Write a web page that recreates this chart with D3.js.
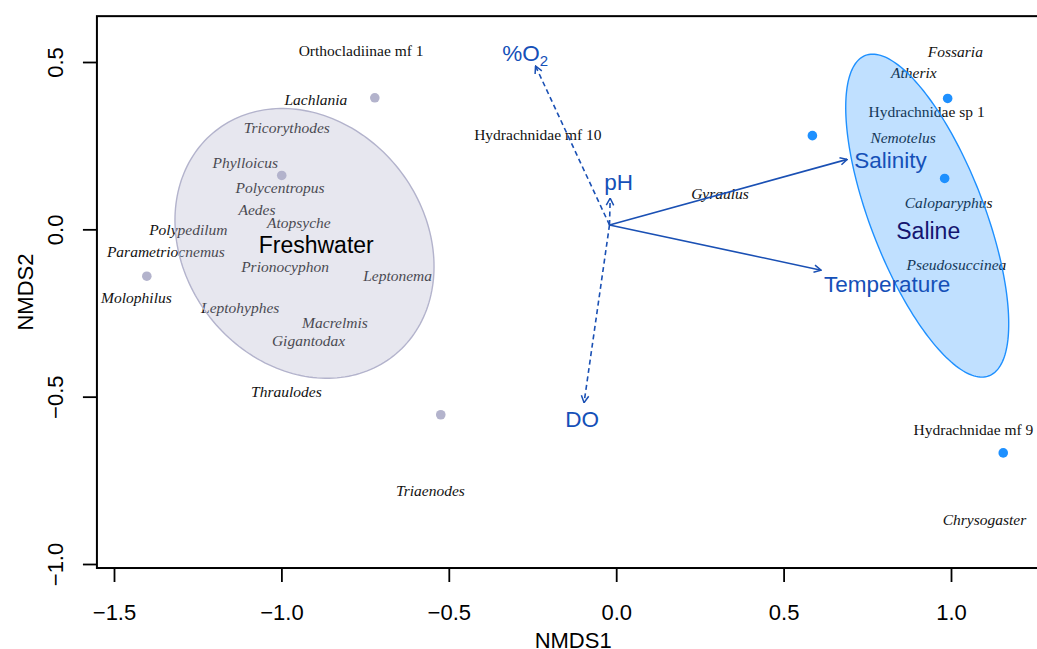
<!DOCTYPE html>
<html>
<head>
<meta charset="utf-8">
<script src="https://d3js.org/d3.v7.min.js"></script>
<style>
  body { margin: 0; background: #fff; }
  svg { display: block; }
</style>
</head>
<body>
<div id="vis"></div>
<script>
const FRAME_WIDTH = 1037;
const FRAME_HEIGHT = 649;

// site scores (NMDS1, NMDS2) and their group
const siteX = [-0.721, -0.999, -1.402, -0.524, 0.586, 0.990, 0.981, 1.156];
const siteY = [0.393, 0.161, -0.140, -0.554, 0.280, 0.391, 0.152, -0.668];
const siteGroup = ["Freshwater", "Freshwater", "Freshwater", "Freshwater",
                   "Saline", "Saline", "Saline", "Saline"];

// taxa scores
const taxa = ["Orthocladiinae mf 1", "Lachlania", "Tricorythodes", "Phylloicus",
  "Polycentropus", "Aedes", "Atopsyche", "Polypedilum", "Parametriocnemus",
  "Prionocyphon", "Leptonema", "Molophilus", "Leptohyphes", "Macrelmis",
  "Gigantodax", "Thraulodes", "Triaenodes", "Hydrachnidae mf 10", "Gyraulus",
  "Fossaria", "Atherix", "Hydrachnidae sp 1", "Nemotelus", "Caloparyphus",
  "Pseudosuccinea", "Hydrachnidae mf 9", "Chrysogaster"];
const taxaX = [-0.762, -0.897, -0.984, -1.108, -1.004, -1.073, -0.948, -1.278,
  -1.345, -0.989, -0.653, -1.433, -1.123, -0.840, -0.919, -0.985, -0.555,
  -0.234, 0.310, 1.013, 0.889, 0.927, 0.857, 0.993, 1.016, 1.067, 1.100];
const taxaY = [0.533, 0.386, 0.302, 0.200, 0.124, 0.057, 0.020, -0.002,
  -0.067, -0.112, -0.140, -0.204, -0.236, -0.281, -0.333, -0.485, -0.781,
  0.282, 0.105, 0.531, 0.468, 0.351, 0.274, 0.078, -0.107, -0.600, -0.869];

// group ellipses
const groups = ["Freshwater", "Saline"];
const ellCx = [-0.931, 0.929];
const ellCy = [-0.042, 0.041];
const ellA = [0.4285, 0.513];
const ellB = [0.3585, 0.170];
const ellAngle = [-51.7, -68.9];
const groupLabelX = [-0.896, 0.932];
const groupLabelY = [-0.045, -0.004];

// environmental vectors
const vecNames = ["%O2", "pH", "Salinity", "Temperature", "DO"];
const vecOrigin = [-0.020, 0.013];
const vecX = [-0.241, -0.018, 0.690, 0.612, -0.096];
const vecY = [0.488, 0.093, 0.209, -0.122, -0.518];
const vecDashed = [true, true, false, false, true];
const vecLabelX = [-0.272, 0.007, 0.819, 0.809, -0.102];
const vecLabelY = [0.526, 0.142, 0.207, -0.163, -0.565];

const xTicks = [-1.5, -1.0, -0.5, 0.0, 0.5, 1.0];
const yTicks = [-1.0, -0.5, 0.0, 0.5];
const xLim = [-1.551, 1.294];
const yLim = [-1.012, 0.637];

const COL_FRESH = "#b3b3cc";
const COL_SALINE = "#1e90ff";
const COL_VEC = "#1a50b4";

const X_SCALE = d3.scaleLinear().domain([-1.5, 1.0]).range([114, 951]);
const Y_SCALE = d3.scaleLinear().domain([-1.0, 0.5]).range([564, 62]);

const FRAME = d3.select("#vis")
  .append("svg")
  .attr("width", FRAME_WIDTH)
  .attr("height", FRAME_HEIGHT);

const defs = FRAME.append("defs");
defs.append("marker")
  .attr("id", "head")
  .attr("markerUnits", "userSpaceOnUse")
  .attr("viewBox", "0 0 10 10")
  .attr("refX", 9.5).attr("refY", 5)
  .attr("markerWidth", 10).attr("markerHeight", 10)
  .attr("orient", "auto")
  .append("path")
  .attr("d", "M2.5,1.3 L9.5,5 L2.5,8.7")
  .attr("fill", "none")
  .attr("stroke", COL_VEC)
  .attr("stroke-width", 1.5);

// points
FRAME.append("g")
  .selectAll("circle")
  .data(siteX.map((d, i) => ({ x: d, y: siteY[i], g: siteGroup[i] })))
  .enter()
  .append("circle")
  .attr("cx", d => X_SCALE(d.x))
  .attr("cy", d => Y_SCALE(d.y))
  .attr("r", 4.8)
  .attr("fill", d => d.g === "Saline" ? COL_SALINE : COL_FRESH);

// taxa labels
FRAME.append("g")
  .selectAll("text")
  .data(taxa.map((d, i) => ({ name: d, x: taxaX[i], y: taxaY[i] })))
  .enter()
  .append("text")
  .attr("x", d => X_SCALE(d.x))
  .attr("y", d => Y_SCALE(d.y))
  .attr("dy", "0.33em")
  .attr("text-anchor", "middle")
  .attr("font-family", "'Liberation Serif', 'Times New Roman', serif")
  .attr("font-size", 15.5)
  .attr("font-style", d => /\b(mf|sp)\b/.test(d.name) ? "normal" : "italic")
  .attr("fill", "#111")
  .text(d => d.name);

// ellipses
const ellLine = d3.line().x(p => X_SCALE(p[0])).y(p => Y_SCALE(p[1])).curve(d3.curveLinearClosed);
function ellipsePoints(i) {
  const th = ellAngle[i] * Math.PI / 180;
  return d3.range(0, 200).map(k => {
    const t = k / 200 * 2 * Math.PI;
    const ex = ellA[i] * Math.cos(t), ey = ellB[i] * Math.sin(t);
    return [ellCx[i] + ex * Math.cos(th) - ey * Math.sin(th),
            ellCy[i] + ex * Math.sin(th) + ey * Math.cos(th)];
  });
}
groups.forEach((g, i) => {
  const col = g === "Saline" ? COL_SALINE : COL_FRESH;
  FRAME.append("path")
    .attr("d", ellLine(ellipsePoints(i)))
    .attr("fill", col)
    .attr("fill-opacity", g === "Saline" ? 0.28 : 0.32)
    .attr("stroke", col)
    .attr("stroke-width", 1.4);
});

// vectors
FRAME.append("g")
  .selectAll("line")
  .data(vecNames.map((d, i) => ({ x: vecX[i], y: vecY[i], dash: vecDashed[i] })))
  .enter()
  .append("line")
  .attr("x1", X_SCALE(vecOrigin[0]))
  .attr("y1", Y_SCALE(vecOrigin[1]))
  .attr("x2", d => X_SCALE(d.x))
  .attr("y2", d => Y_SCALE(d.y))
  .attr("stroke", COL_VEC)
  .attr("stroke-width", 1.6)
  .attr("stroke-dasharray", d => d.dash ? "5,3.5" : null)
  .attr("marker-end", "url(#head)");

const vecText = FRAME.append("g")
  .selectAll("text")
  .data(vecNames.map((d, i) => ({ name: d, x: vecLabelX[i], y: vecLabelY[i] })))
  .enter()
  .append("text")
  .attr("x", d => X_SCALE(d.x))
  .attr("y", d => Y_SCALE(d.y))
  .attr("dy", "0.36em")
  .attr("text-anchor", "middle")
  .attr("font-family", "'Liberation Sans', Arial, sans-serif")
  .attr("font-size", 22.5)
  .attr("fill", "#1550b8");
vecText.each(function (d) {
  const t = d3.select(this);
  if (d.name === "%O2") {
    t.append("tspan").text("%O");
    t.append("tspan").attr("font-size", 15).attr("dy", "0.3em").text("2");
  } else {
    t.text(d.name);
  }
});

// group labels
FRAME.append("g")
  .selectAll("text")
  .data(groups.map((d, i) => ({ name: d, x: groupLabelX[i], y: groupLabelY[i] })))
  .enter()
  .append("text")
  .attr("x", d => X_SCALE(d.x))
  .attr("y", d => Y_SCALE(d.y))
  .attr("dy", "0.36em")
  .attr("text-anchor", "middle")
  .attr("font-family", "'Liberation Sans', Arial, sans-serif")
  .attr("font-size", 23)
  .attr("fill", d => d.name === "Saline" ? "#151570" : "#000")
  .text(d => d.name);

// box
FRAME.append("rect")
  .attr("x", X_SCALE(xLim[0]))
  .attr("y", Y_SCALE(yLim[1]))
  .attr("width", X_SCALE(xLim[1]) - X_SCALE(xLim[0]))
  .attr("height", Y_SCALE(yLim[0]) - Y_SCALE(yLim[1]))
  .attr("fill", "none")
  .attr("stroke", "#000")
  .attr("stroke-width", 2);

// axes
const xAxis = FRAME.append("g")
  .attr("transform", `translate(0, ${Y_SCALE(yLim[0])})`)
  .call(d3.axisBottom(X_SCALE).tickValues(xTicks).tickSize(14).tickPadding(20)
    .tickFormat(d3.format(".1f")));
const yAxis = FRAME.append("g")
  .attr("transform", `translate(${X_SCALE(xLim[0])}, 0)`)
  .call(d3.axisLeft(Y_SCALE).tickValues(yTicks).tickSize(14).tickPadding(0)
    .tickFormat(d3.format(".1f")));
[xAxis, yAxis].forEach(a => {
  a.select(".domain").remove();
  a.selectAll(".tick line").attr("stroke", "#000").attr("stroke-width", 1.8);
  a.selectAll(".tick text")
    .attr("font-family", "'Liberation Sans', Arial, sans-serif")
    .attr("font-size", 22)
    .attr("fill", "#000");
});
xAxis.selectAll(".tick text").attr("dy", "0.35em").attr("y", 44);
yAxis.selectAll(".tick text")
  .attr("x", null).attr("dy", null)
  .attr("text-anchor", "middle")
  .attr("transform", "translate(-42,0) rotate(-90)")
  .attr("y", 0)
  .attr("dy", "0.35em");

// axis titles
FRAME.append("text")
  .attr("x", (X_SCALE(xLim[0]) + X_SCALE(xLim[1])) / 2)
  .attr("y", 640)
  .attr("dy", "0.35em")
  .attr("text-anchor", "middle")
  .attr("font-family", "'Liberation Sans', Arial, sans-serif")
  .attr("font-size", 22)
  .text("NMDS1");
FRAME.append("text")
  .attr("transform", `translate(25, ${(Y_SCALE(yLim[0]) + Y_SCALE(yLim[1])) / 2}) rotate(-90)`)
  .attr("dy", "0.35em")
  .attr("text-anchor", "middle")
  .attr("font-family", "'Liberation Sans', Arial, sans-serif")
  .attr("font-size", 22)
  .text("NMDS2");
</script>
</body>
</html>
